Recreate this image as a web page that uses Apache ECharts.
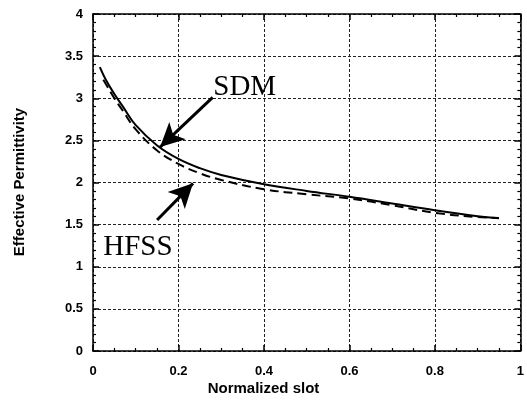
<!DOCTYPE html>
<html><head><meta charset="utf-8">
<script src="https://cdn.jsdelivr.net/npm/echarts@6/dist/echarts.min.js"></script>
<style>html,body{margin:0;padding:0;background:#fff}#c{width:527px;height:410px}</style>
</head><body><div id="c"></div>
<script>
const sdmX = [0.016,0.03,0.05,0.07,0.1,0.15,0.2,0.25,0.3,0.4,0.5,0.6,0.7,0.8,0.9,0.95];
const sdmY = [3.37,3.22,3.05,2.90,2.68,2.44,2.28,2.17,2.09,1.98,1.90,1.83,1.75,1.67,1.60,1.575];
const hfssX = [0.024,0.03,0.05,0.07,0.1,0.15,0.2,0.25,0.3,0.4,0.5,0.6,0.7,0.8,0.9,0.95];
const hfssY = [3.22,3.17,3.0,2.85,2.63,2.38,2.22,2.11,2.03,1.92,1.86,1.81,1.73,1.64,1.59,1.58];
const xTicks = ['0','0.2','0.4','0.6','0.8','1'];
const yTicks = ['0','0.5','1','1.5','2','2.5','3','3.5','4'];
const xTitle = 'Normalized slot';
const yTitle = 'Effective Permittivity';
const sdmLabel = {text:'SDM', at:[0.355, 3.13]};
const hfssLabel = {text:'HFSS', at:[0.105, 1.23]};
const sdmArrow = [[0.28,3.01],[0.157,2.42]];
const hfssArrow = [[0.15,1.555],[0.234,1.99]];

const zip = (xs, ys) => xs.map((x,i)=>[x, ys[i]]);
function mkAxis(kind, pos, main) {
  const isX = kind === 'x';
  return {
    type:'value', position:pos,
    min:0, max: isX ? 1 : 4, interval: isX ? 0.2 : 0.5,
    axisLine:{show:true, onZero:false, lineStyle:{color:'#000', width:1.5}},
    axisTick:{show:true, inside:true, length:6, lineStyle:{color:'#000', width:1.5}},
    minorTick:{show:true, splitNumber: isX ? 4 : 5, length:3, lineStyle:{color:'#000', width:1.2}},
    splitLine: main ? {show:true, lineStyle:{color:'#222', type:[3,2], width:1}} : {show:false},
    axisLabel: main ? {show:true, fontFamily:'Liberation Sans, Arial', fontWeight:'bold', fontSize:13, color:'#000',
      margin: isX ? 14 : 10,
      formatter: isX ? (v=>xTicks[Math.round(v/0.2)]) : (v=>yTicks[Math.round(v/0.5)])} : {show:false}
  };
}
const chart = echarts.init(document.getElementById('c'));
chart.setOption({
  animation:false,
  grid:{left:93, right:6, top:14, bottom:59},
  xAxis:[mkAxis('x','bottom',true), mkAxis('x','top',false)],
  yAxis:[mkAxis('y','left',true), mkAxis('y','right',false)],
  graphic:[
    {type:'text', left:'center', x:0, top:381, style:{text:xTitle, font:'bold 15px "Liberation Sans", Arial', fill:'#000'},
     position:[0,0]},
    {type:'text', x:20, y:182, rotation:Math.PI/2, style:{text:yTitle, font:'bold 15px "Liberation Sans", Arial', fill:'#000', align:'center', verticalAlign:'middle'}}
  ],
  series:[
    {type:'line', name:'SDM', data:zip(sdmX,sdmY), smooth:0.4, symbol:'none',
     lineStyle:{color:'#000', width:2},
     markLine:{silent:true, symbol:['none','arrow'], symbolSize:[18,24],
       lineStyle:{color:'#000', width:3, type:'solid'}, label:{show:false},
       data:[[{coord:sdmArrow[0]},{coord:sdmArrow[1]}],[{coord:hfssArrow[0]},{coord:hfssArrow[1]}]]},
     markPoint:{silent:true, symbol:'circle', symbolSize:0,
       label:{show:true, position:'inside', fontFamily:'Liberation Serif, Times New Roman', fontSize:29, color:'#000'},
       data:[{coord:sdmLabel.at, value:sdmLabel.text, label:{formatter:sdmLabel.text}},
             {coord:hfssLabel.at, value:hfssLabel.text, label:{formatter:hfssLabel.text}}]}},
    {type:'line', name:'HFSS', data:zip(hfssX,hfssY), smooth:0.4, symbol:'none',
     lineStyle:{color:'#000', width:2, type:[9,5]}}
  ]
});
</script></body></html>
